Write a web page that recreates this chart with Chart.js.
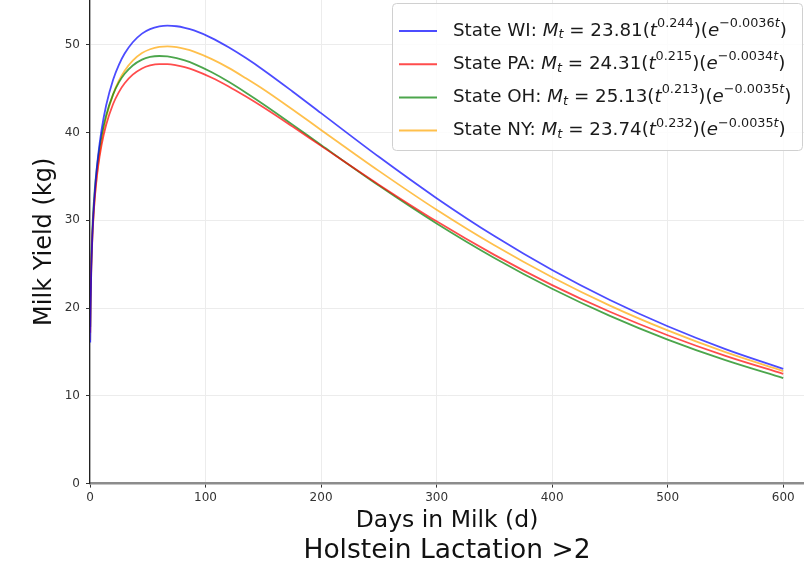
<!DOCTYPE html>
<html>
<head>
<meta charset="utf-8">
<script src="https://cdn.jsdelivr.net/npm/chart.js@4.4.0/dist/chart.umd.min.js"></script>
<style>
  html, body { margin: 0; padding: 0; background: #fff; }
  #wrap { width: 804px; height: 567px; }
</style>
</head>
<body>
<div id="wrap"><canvas id="milkChart"></canvas></div>
<script>
// days in milk and yield (kg)
const days = [0.2, 0.5, 1, 2, 3, 4, 5, 7, 10, 14, 20, 25, 30, 37, 45, 52, 60, 67, 75, 82, 90, 105, 120, 135, 150, 175, 200, 250, 300, 350, 400, 450, 500, 550, 600];
const wiYield = [16.07, 20.07, 23.72, 27.99, 30.79, 32.91, 34.64, 37.33, 40.29, 43.11, 46.02, 47.72, 49.00, 50.29, 51.27, 51.78, 52.09, 52.18, 52.11, 51.93, 51.63, 50.79, 49.71, 48.48, 47.13, 44.71, 42.21, 37.23, 32.52, 28.20, 24.33, 20.92, 17.93, 15.33, 13.08];
const paYield = [17.19, 20.91, 24.23, 28.03, 30.47, 32.31, 33.79, 36.08, 38.56, 40.88, 43.25, 44.61, 45.61, 46.59, 47.30, 47.64, 47.80, 47.80, 47.66, 47.44, 47.11, 46.27, 45.25, 44.10, 42.88, 40.71, 38.48, 34.06, 29.88, 26.06, 22.62, 19.58, 16.90, 14.55, 12.51];
const ohYield = [17.83, 21.65, 25.04, 28.92, 31.42, 33.29, 34.80, 37.12, 39.63, 41.98, 44.35, 45.71, 46.69, 47.64, 48.31, 48.61, 48.72, 48.68, 48.48, 48.21, 47.83, 46.89, 45.78, 44.54, 43.23, 40.93, 38.58, 33.96, 29.64, 25.71, 22.20, 19.11, 16.41, 14.06, 12.02];
const nyYield = [16.33, 20.18, 23.66, 27.69, 30.31, 32.29, 33.90, 36.39, 39.11, 41.70, 44.35, 45.90, 47.05, 48.20, 49.06, 49.49, 49.76, 49.81, 49.72, 49.53, 49.22, 48.39, 47.37, 46.18, 44.93, 42.65, 40.30, 35.63, 31.20, 27.15, 23.51, 20.28, 17.45, 14.97, 12.82];

const states = ['State WI', 'State PA', 'State OH', 'State NY'];
const coefA = ['23.81', '24.31', '25.13', '23.74'];
const expB = ['0.244', '0.215', '0.213', '0.232'];
const expC = ['0.0036', '0.0034', '0.0035', '0.0035'];
const colors = ['rgba(0,0,255,0.7)', 'rgba(255,0,0,0.7)', 'rgba(0,128,0,0.7)', 'rgba(255,165,0,0.7)'];

const xTicks = [0, 100, 200, 300, 400, 500, 600];
const yTicks = [0, 10, 20, 30, 40, 50];

const FONT = "'DejaVu Sans', sans-serif";

function toPoints(ys) {
    return days.map((d, i) => ({ x: d, y: ys[i] }));
}

// draws a run of text pieces (normal / italic / sub / sup) left to right
function drawRich(ctx, x, y, parts, size) {
    parts.forEach(p => {
        let fs = size, dy = 0;
        if (p.sup) { fs = size * 0.7; dy = -size * 0.4; }
        if (p.sub) { fs = size * 0.7; dy = size * 0.22; }
        ctx.font = (p.it ? 'italic ' : '') + fs + 'px ' + FONT;
        ctx.fillText(p.t, x, y + dy);
        x += ctx.measureText(p.t).width;
    });
    return x;
}

const mathLegend = {
    id: 'mathLegend',
    afterDraw(chart) {
        const ctx = chart.ctx;
        const bx = 392, by = 3, bw = 410, bh = 147;
        ctx.save();
        ctx.fillStyle = 'rgba(255,255,255,0.85)';
        ctx.strokeStyle = '#d0d0d0';
        ctx.lineWidth = 1;
        ctx.beginPath();
        ctx.roundRect(bx + 0.5, by + 0.5, bw, bh, 4);
        ctx.fill();
        ctx.stroke();
        ctx.textBaseline = 'middle';
        chart.data.datasets.forEach((ds, i) => {
            const ry = 31 + i * 33.2;
            ctx.strokeStyle = ds.borderColor;
            ctx.lineWidth = 2;
            ctx.beginPath();
            ctx.moveTo(399, ry);
            ctx.lineTo(437, ry);
            ctx.stroke();
            ctx.fillStyle = '#1a1a1a';
            drawRich(ctx, 453, ry, [
                { t: states[i] + ': ' },
                { t: 'M', it: true },
                { t: 't', it: true, sub: true },
                { t: ' = ' + coefA[i] + '(' },
                { t: 't', it: true },
                { t: expB[i], sup: true },
                { t: ')(' },
                { t: 'e', it: true },
                { t: '\u2212' + expC[i], sup: true },
                { t: 't', it: true, sup: true },
                { t: ')' }
            ], 18.3);
        });
        ctx.restore();
    }
};

const whiteBg = {
    id: 'whiteBg',
    beforeDraw(chart) {
        const ctx = chart.ctx;
        ctx.save();
        ctx.fillStyle = '#fff';
        ctx.fillRect(0, 0, chart.width, chart.height);
        ctx.restore();
    }
};

// no extra room for half tick labels at the axis ends
function noPad(s) {
    s.paddingTop = 0; s.paddingBottom = 0;
    s.paddingLeft = 0; s.paddingRight = 0;
}

const ctx = document.getElementById('milkChart').getContext('2d');
const milkChart = new Chart(ctx, {
    type: 'line',
    data: {
        datasets: [wiYield, paYield, ohYield, nyYield].map((ys, i) => ({
            label: states[i],
            data: toPoints(ys),
            borderColor: colors[i],
            borderWidth: 1.8,
            pointRadius: 0,
            fill: false,
            cubicInterpolationMode: 'monotone'
        }))
    },
    options: {
        responsive: true,
        maintainAspectRatio: false,
        animation: false,
        layout: { padding: 0, autoPadding: false },
        plugins: {
            legend: { display: false },
            tooltip: { enabled: false },
            title: {
                display: true,
                position: 'bottom',
                fullSize: false,
                text: 'Holstein Lactation >2',
                color: '#111',
                font: { family: FONT, size: 26.5, weight: 'normal', lineHeight: 1.2 },
                padding: { top: 0, bottom: 0 }
            }
        },
        scales: {
            x: {
                type: 'linear',
                min: 0,
                max: 618,
                afterFit: s => { s.height = 51.6; noPad(s); },
                afterBuildTicks: s => { s.ticks = xTicks.map(v => ({ value: v })); },
                grid: { color: '#ececec', tickLength: 4, tickColor: '#333' },
                border: { color: '#8c8c8c', width: 2.5 },
                ticks: { color: '#333', padding: 3, font: { family: FONT, size: 12 } },
                title: {
                    display: true,
                    text: 'Days in Milk (d)',
                    color: '#111',
                    font: { family: FONT, size: 23.5, lineHeight: 1.2 },
                    padding: { top: 0, bottom: 0 }
                }
            },
            y: {
                min: 0,
                max: 55.1,
                afterFit: s => { s.width = 90; noPad(s); },
                afterBuildTicks: s => { s.ticks = yTicks.map(v => ({ value: v })); },
                grid: { color: '#ececec', tickLength: 4, tickColor: '#333' },
                border: { color: '#222', width: 1.3 },
                ticks: { color: '#333', padding: 6, font: { family: FONT, size: 12 } },
                title: {
                    display: true,
                    text: 'Milk Yield (kg)',
                    color: '#111',
                    font: { family: FONT, size: 24, lineHeight: 1.2 },
                    padding: { top: 30, bottom: 0 }
                }
            }
        }
    },
    plugins: [whiteBg, mathLegend]
});
</script>
</body>
</html>
